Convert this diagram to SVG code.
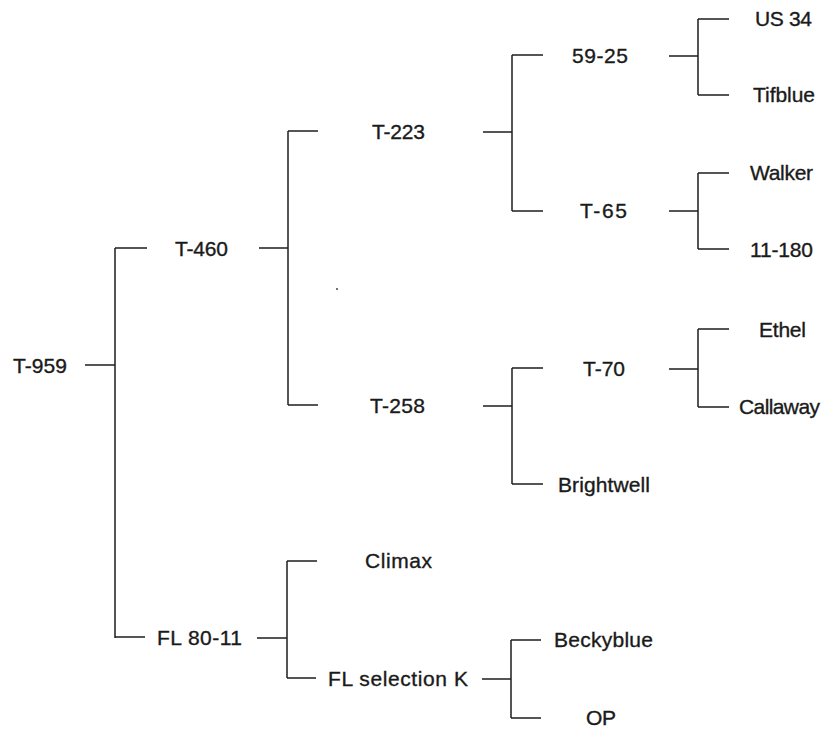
<svg xmlns="http://www.w3.org/2000/svg" width="833" height="734" viewBox="0 0 833 734">
<style>
text{font-family:"Liberation Sans",Arial,sans-serif;font-size:21px;fill:#1a1a1a;stroke:#1a1a1a;stroke-width:0.35}
.c path{fill:none;stroke:#1e1e1e;stroke-width:1.5}
</style>
<rect width="833" height="734" fill="#fff"/>
<g class="c" id="connectors">
<path d="M85 365H115M115 248V638M115 248H147M115 637H145"/>
<path d="M259 248H288M288 131V405M288 131H318M288 405H318"/>
<path d="M483 132H512M512 55V211M512 55H543M512 211H543"/>
<path d="M669 56H698M698 19V95M698 19H729M698 95H729"/>
<path d="M669 211H698M698 173V249M698 173H729M698 249H729"/>
<path d="M483 406H512M512 368V484M512 368H543M512 484H543"/>
<path d="M669 369H698M698 329V407M698 329H729M698 407H729"/>
<path d="M257 638H287M287 561V678M287 561H317M287 678H316"/>
<path d="M482 679H511M511 640V718M511 640H541M511 718H541"/>
</g>
<circle cx="337" cy="289" r="0.9" fill="#333"/>
<g id="n-t959"><text x="13" y="373" textLength="54">T-959</text></g>
<g id="n-t460"><text x="175" y="256" textLength="53">T-460</text></g>
<g id="n-t223"><text x="372" y="139" textLength="53">T-223</text></g>
<g id="n-t258"><text x="370" y="413" textLength="55">T-258</text></g>
<g id="n-5925"><text x="572" y="63" textLength="56">59-25</text></g>
<g id="n-t65"><text x="580" y="218" textLength="47">T-65</text></g>
<g id="n-us34"><text x="755" y="26" textLength="57">US 34</text></g>
<g id="n-tifblue"><text x="753" y="102" textLength="62">Tifblue</text></g>
<g id="n-walker"><text x="750" y="180" textLength="63">Walker</text></g>
<g id="n-11180"><text x="750" y="257" textLength="63">11-180</text></g>
<g id="n-ethel"><text x="759" y="337" textLength="47">Ethel</text></g>
<g id="n-callaway"><text x="739" y="414" textLength="81">Callaway</text></g>
<g id="n-t70"><text x="583" y="376" textLength="42">T-70</text></g>
<g id="n-brightwell"><text x="558" y="492" textLength="92">Brightwell</text></g>
<g id="n-climax"><text x="365" y="568" textLength="67">Climax</text></g>
<g id="n-fl8011"><text x="157" y="645" textLength="85">FL 80-11</text></g>
<g id="n-flselk"><text x="328" y="686" textLength="140">FL selection K</text></g>
<g id="n-beckyblue"><text x="554" y="647" textLength="99">Beckyblue</text></g>
<g id="n-op"><text x="586" y="725" textLength="30">OP</text></g>
</svg>
